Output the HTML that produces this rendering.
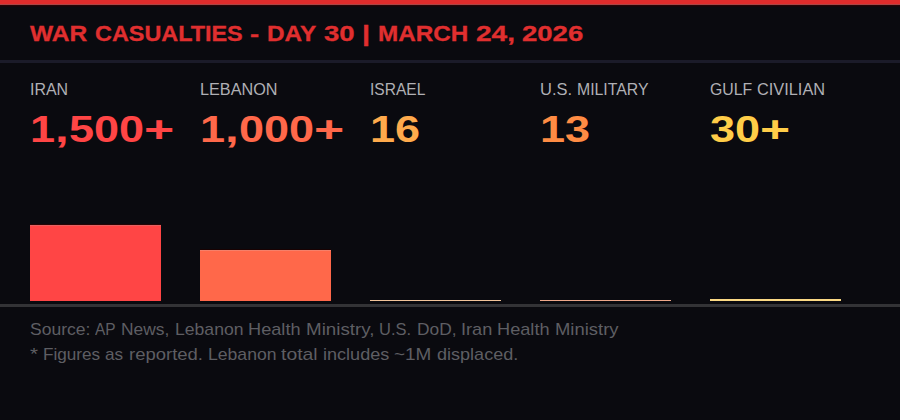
<!DOCTYPE html>
<html lang="en"><head><meta charset="utf-8"><title>War Casualties - Day 30 | March 24, 2026</title><style>
*{margin:0;padding:0;box-sizing:border-box}
html,body{width:900px;height:420px;overflow:hidden;background:#0a0a0f}
body{position:relative;font-family:"Liberation Sans",sans-serif}
.t{position:absolute;white-space:nowrap;line-height:1;height:1em;width:1px}
.t span{position:absolute;top:0;transform-origin:0 0;white-space:pre}
.r{position:absolute}
</style></head><body>
<div class="r" style="left:0;top:0;width:900px;height:4px;background:#e02c2c"></div>
<div class="r" style="left:0;top:4px;width:900px;height:1px;background:#a84646"></div>
<div class="r" style="left:0;top:5px;width:900px;height:1px;background:#260406"></div>
<div class="r" style="left:0;top:6px;width:900px;height:1px;background:#16050a"></div>
<div class="r" style="left:0;top:60px;width:900px;height:3px;background:#1b1b29"></div>
<div class="r" style="left:30px;top:225px;width:131px;height:76px;background:#ff4545;border-top:1px solid #e46262;box-shadow:0 -1px 0 #2a0303"></div>
<div class="r" style="left:200px;top:250px;width:131px;height:51px;background:#ff684a;border-top:1px solid #f5806a;box-shadow:0 -1px 0 #180202"></div>
<div class="r" style="left:370px;top:300px;width:131px;height:1px;background:#f2c49a"></div>
<div class="r" style="left:540px;top:300px;width:131px;height:1px;background:#eea88a"></div>
<div class="r" style="left:710px;top:299px;width:131px;height:2px;background:#fbd985"></div>
<div class="r" style="left:0;top:304px;width:900px;height:3px;background:#333336"></div>
<div class="t" style="left:30px;top:23.23px;font-size:22.61px;font-weight:700;color:#e02f2f;-webkit-text-stroke:0.3px #e02f2f"><span style="left:0.00px;transform:scaleX(1.0853)">WAR</span><span style="left:64.89px;transform:scaleX(1.0344)">CASUALTIES</span><span style="left:220.23px;transform:scaleX(1.2137)">-</span><span style="left:237.02px;transform:scaleX(1.0756)">DAY</span><span style="left:293.80px;transform:scaleX(1.2174)">30</span><span style="left:332.06px;transform:scaleX(1.2716)">|</span><span style="left:347.77px;transform:scaleX(1.0745)">MARCH</span><span style="left:445.84px;transform:scaleX(1.2401)">24,</span><span style="left:492.47px;transform:scaleX(1.2174)">2026</span></div>
<div class="t" style="left:30px;top:81.94px;font-size:16.95px;font-weight:400;color:#b0b0b5;"><span style="left:0.00px;transform:scaleX(0.9417)">IRAN</span></div>
<div class="t" style="left:200px;top:81.94px;font-size:16.95px;font-weight:400;color:#b0b0b5;"><span style="left:0.00px;transform:scaleX(0.9572)">LEBANON</span></div>
<div class="t" style="left:370px;top:81.94px;font-size:16.95px;font-weight:400;color:#b0b0b5;"><span style="left:0.00px;transform:scaleX(0.9180)">ISRAEL</span></div>
<div class="t" style="left:540px;top:81.94px;font-size:16.95px;font-weight:400;color:#b0b0b5;"><span style="left:0.00px;transform:scaleX(0.9725)">U.S.</span><span style="left:37.12px;transform:scaleX(0.9339)">MILITARY</span></div>
<div class="t" style="left:710px;top:81.94px;font-size:16.95px;font-weight:400;color:#b0b0b5;"><span style="left:0.00px;transform:scaleX(0.9346)">GULF</span><span style="left:47.31px;transform:scaleX(0.9646)">CIVILIAN</span></div>
<div class="t" style="left:30px;top:111.08px;font-size:37.38px;font-weight:700;color:#ff4545;"><span style="left:0.00px;transform:scaleX(1.2051)">1</span><span style="left:25.05px;transform:scaleX(1.3173)">,</span><span style="left:38.72px;transform:scaleX(1.2051)">5</span><span style="left:63.77px;transform:scaleX(1.2051)">0</span><span style="left:88.81px;transform:scaleX(1.2051)">0</span><span style="left:113.86px;transform:scaleX(1.3830)">+</span></div>
<div class="t" style="left:200px;top:111.08px;font-size:37.38px;font-weight:700;color:#ff684a;"><span style="left:0.00px;transform:scaleX(1.2051)">1</span><span style="left:25.05px;transform:scaleX(1.3173)">,</span><span style="left:38.72px;transform:scaleX(1.2051)">0</span><span style="left:63.77px;transform:scaleX(1.2051)">0</span><span style="left:88.81px;transform:scaleX(1.2051)">0</span><span style="left:113.86px;transform:scaleX(1.3830)">+</span></div>
<div class="t" style="left:370px;top:111.08px;font-size:37.38px;font-weight:700;color:#ffaa4c;"><span style="left:0.00px;transform:scaleX(1.2051)">1</span><span style="left:25.05px;transform:scaleX(1.2051)">6</span></div>
<div class="t" style="left:540px;top:111.08px;font-size:37.38px;font-weight:700;color:#ff8c44;"><span style="left:0.00px;transform:scaleX(1.2051)">1</span><span style="left:25.05px;transform:scaleX(1.2051)">3</span></div>
<div class="t" style="left:710px;top:111.08px;font-size:37.38px;font-weight:700;color:#ffcd48;"><span style="left:0.00px;transform:scaleX(1.2051)">3</span><span style="left:25.05px;transform:scaleX(1.2051)">0</span><span style="left:50.09px;transform:scaleX(1.3822)">+</span></div>
<div class="t" style="left:30px;top:321.94px;font-size:16.95px;font-weight:400;color:#5e5e63;"><span style="left:0.00px;transform:scaleX(1.0337)">Source:</span><span style="left:65.42px;transform:scaleX(0.9115)">AP</span><span style="left:91.11px;transform:scaleX(1.0269)">News,</span><span style="left:144.52px;transform:scaleX(1.0389)">Lebanon</span><span style="left:218.11px;transform:scaleX(1.0731)">Health</span><span style="left:275.73px;transform:scaleX(1.1097)">Ministry,</span><span style="left:349.39px;transform:scaleX(0.9725)">U.S.</span><span style="left:386.52px;transform:scaleX(1.0243)">DoD,</span><span style="left:431.12px;transform:scaleX(1.0707)">Iran</span><span style="left:467.45px;transform:scaleX(1.0731)">Health</span><span style="left:525.08px;transform:scaleX(1.0884)">Ministry</span></div>
<div class="t" style="left:30px;top:346.94px;font-size:16.95px;font-weight:400;color:#5e5e63;"><span style="left:0.00px;transform:scaleX(1.2133)">*</span><span style="left:13.08px;transform:scaleX(1.0127)">Figures</span><span style="left:75.36px;transform:scaleX(1.0140)">as</span><span style="left:98.58px;transform:scaleX(1.0910)">reported.</span><span style="left:177.62px;transform:scaleX(1.0389)">Lebanon</span><span style="left:251.22px;transform:scaleX(1.1430)">total</span><span style="left:292.89px;transform:scaleX(1.0669)">includes</span><span style="left:364.28px;transform:scaleX(1.1187)">~1M</span><span style="left:406.75px;transform:scaleX(1.0649)">displaced.</span></div>
</body></html>
